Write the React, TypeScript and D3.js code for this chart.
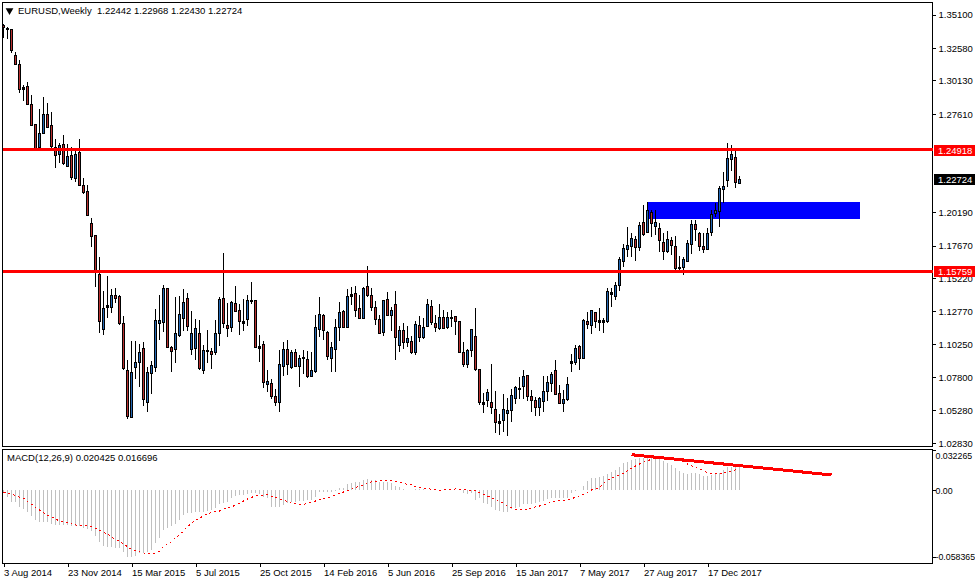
import { useEffect, useRef } from 'react'
import * as d3 from 'd3'

const opens = [
  1.3431,1.3408,1.3401,1.3205,1.3137,1.2962,1.2972,1.2836,1.2685,1.2515,
  1.2620,1.2761,1.2675,1.2515,1.2462,1.2532,1.2372,1.2450,1.2281,1.2475,
  1.2226,1.2178,1.1940,1.1846,1.1553,1.1139,1.1320,1.1305,1.1395,1.1388,
  1.1184,1.0831,1.0482,1.0858,1.0891,1.0996,1.0595,1.0813,1.0858,1.1190,
  1.1197,1.1448,1.1004,1.0989,1.1097,1.1222,1.1373,1.0989,1.0996,1.1109,
  1.0831,1.0984,1.0974,1.0966,1.1109,1.1373,1.1169,1.1159,1.1335,1.1282,
  1.1200,1.1220,1.1353,1.1358,1.1011,1.1026,1.0730,1.0733,1.0635,1.0590,
  1.0866,1.0989,1.0858,1.0966,1.0866,1.0928,1.0913,1.0790,1.0828,1.1144,
  1.1245,1.1117,1.0921,1.0989,1.1154,1.1280,1.1159,1.1393,1.1410,1.1297,
  1.1222,1.1463,1.1395,1.1305,1.1215,1.1117,1.1365,1.1245,1.1328,1.1024,
  1.1132,1.1046,1.1049,1.0966,1.1169,1.1084,1.1167,1.1312,1.1184,1.1152,
  1.1230,1.1154,1.1230,1.1237,1.1199,1.0966,1.0881,1.0986,1.1087,1.0838,
  1.0592,1.0605,1.0590,1.0537,1.0449,1.0454,1.0512,1.0529,1.0625,1.0692,
  1.0715,1.0793,1.0635,1.0605,1.0557,1.0602,1.0677,1.0738,1.0831,1.0657,
  1.0587,1.0612,1.0888,1.0891,1.1016,1.0926,1.1199,1.1169,1.1267,1.1207,
  1.1207,1.1199,1.1418,1.1393,1.1471,1.1656,1.1747,1.1769,1.1817,1.1762,
  1.1945,1.1875,1.2020,1.1920,1.1900,1.1794,1.1732,1.1810,1.1764,1.1609,
  1.1611,1.1656,1.1784,1.1930,1.1862,1.1764,1.1742,1.1870,1.2018,1.2028,
  1.2199,1.2266,1.2425,1.2434,1.22442,
]

const highs = [
  1.3438,1.3418,1.3401,1.3230,1.3167,1.2979,1.3004,1.2904,1.2685,1.2798,
  1.2889,1.2841,1.2778,1.2570,1.2545,1.2603,1.2535,1.2510,1.2482,1.2572,
  1.2279,1.2226,1.1978,1.1850,1.1681,1.1430,1.1541,1.1441,1.1448,1.1398,
  1.1240,1.0908,1.1051,1.1051,1.1029,1.1044,1.0858,1.0903,1.1292,1.1398,
  1.1471,1.1448,1.1014,1.1385,1.1390,1.1441,1.1415,1.1277,1.1215,1.1210,
  1.1021,1.1134,1.1001,1.1210,1.1380,1.1712,1.1335,1.1353,1.1466,1.1330,
  1.1365,1.1398,1.1493,1.1358,1.1097,1.1051,1.0833,1.0763,1.0690,1.0984,
  1.1041,1.1059,1.0984,1.0991,1.0946,1.0984,1.0976,1.0969,1.1247,1.1383,
  1.1252,1.1127,1.1044,1.1217,1.1345,1.1285,1.1440,1.1458,1.1466,1.1398,
  1.1461,1.1616,1.1451,1.1353,1.1247,1.1360,1.1418,1.1310,1.1425,1.1164,
  1.1184,1.1164,1.1089,1.1202,1.1240,1.1222,1.1365,1.1360,1.1247,1.1330,
  1.1285,1.1267,1.1285,1.1240,1.1199,1.1044,1.0989,1.1139,1.1300,1.0838,
  1.0657,1.0687,1.0878,1.0675,1.0502,1.0650,1.0620,1.0687,1.0715,1.0778,
  1.0833,1.0793,1.0682,1.0632,1.0632,1.0788,1.0788,1.0821,1.0908,1.0720,
  1.0682,1.0778,1.0953,1.1021,1.1021,1.1215,1.1267,1.1285,1.1272,1.1297,
  1.1222,1.1448,1.1448,1.1493,1.1686,1.1779,1.1907,1.1862,1.1842,1.1945,
  1.2076,1.2096,1.2038,1.2038,1.1937,1.1862,1.1880,1.1832,1.1842,1.1692,
  1.1686,1.1812,1.1963,1.1963,1.1875,1.1862,1.1900,1.2038,1.2088,1.2219,
  1.2321,1.2540,1.2527,1.2482,1.22968,
]

const lows = [
  1.3336,1.3323,1.3223,1.3130,1.2921,1.2859,1.2829,1.2670,1.2505,1.2505,
  1.2620,1.2655,1.2502,1.2357,1.2394,1.2377,1.2364,1.2264,1.2246,1.2221,
  1.2158,1.2003,1.1759,1.1460,1.1114,1.1097,1.1222,1.1265,1.1335,1.1174,
  1.0833,1.0462,1.0474,1.0765,1.0708,1.0564,1.0519,1.0652,1.0821,1.1061,
  1.1122,1.1001,1.0821,1.0888,1.1084,1.1129,1.1129,1.0946,1.0908,1.0833,
  1.0805,1.0888,1.0841,1.0946,1.1014,1.1149,1.1084,1.1122,1.1272,1.1097,
  1.1129,1.1164,1.1330,1.1004,1.0893,1.0700,1.0670,1.0617,1.0564,1.0519,
  1.0790,1.0795,1.0841,1.0853,1.0708,1.0803,1.0775,1.0790,1.0813,1.1082,
  1.1061,1.0911,1.0821,1.0821,1.1054,1.1152,1.1154,1.1323,1.1235,1.1222,
  1.1222,1.1385,1.1280,1.1174,1.1109,1.1089,1.1242,1.1127,1.0908,1.0971,
  1.0994,1.1009,1.0954,1.0946,1.1046,1.1069,1.1154,1.1174,1.1122,1.1134,
  1.1139,1.1139,1.1154,1.1097,1.0971,1.0856,1.0851,1.0933,1.0826,1.0570,
  1.0507,1.0552,1.0502,1.0359,1.0346,1.0369,1.0339,1.0444,1.0577,1.0615,
  1.0615,1.0602,1.0519,1.0489,1.0489,1.0514,1.0602,1.0670,1.0645,1.0577,
  1.0519,1.0602,1.0821,1.0871,1.0833,1.0921,1.1139,1.1104,1.1147,1.1127,
  1.1109,1.1189,1.1310,1.1360,1.1428,1.1606,1.1686,1.1686,1.1656,1.1732,
  1.1842,1.1867,1.1837,1.1847,1.1719,1.1661,1.1717,1.1699,1.1586,1.1586,
  1.1551,1.1649,1.1707,1.1804,1.1732,1.1717,1.1737,1.1842,1.1983,1.1912,
  1.2088,1.2214,1.2334,1.2206,1.2243,
]

const closes = [
  1.3413,1.3398,1.3243,1.3140,1.2952,1.2947,1.2836,1.2681,1.2505,1.2615,
  1.2761,1.2665,1.2520,1.2455,1.2525,1.2394,1.2445,1.2289,1.2457,1.2226,
  1.2176,1.2003,1.1844,1.1586,1.1205,1.1297,1.1310,1.1395,1.1378,1.1190,
  1.0851,1.0489,1.0816,1.0891,1.0966,1.0612,1.0816,1.0868,1.1207,1.1207,
  1.1448,1.1009,1.0979,1.1109,1.1252,1.1343,1.1167,1.1109,1.1147,1.0846,
  1.0981,1.0979,1.0956,1.1109,1.1365,1.1184,1.1147,1.1345,1.1280,1.1205,
  1.1190,1.1358,1.1358,1.1009,1.1001,1.0745,1.0748,1.0640,1.0595,1.0876,
  1.0989,1.0876,1.0966,1.0866,1.0921,1.0921,1.0790,1.0831,1.1154,1.1252,
  1.1132,1.0941,1.1004,1.1154,1.1267,1.1159,1.1388,1.1405,1.1282,1.1222,
  1.1451,1.1400,1.1310,1.1215,1.1109,1.1358,1.1250,1.1282,1.1084,1.1132,
  1.1046,1.1071,1.0971,1.1177,1.1084,1.1159,1.1328,1.1192,1.1159,1.1230,
  1.1147,1.1230,1.1227,1.1199,1.0971,1.0881,1.0981,1.1139,1.0841,1.0590,
  1.0580,1.0665,1.0557,1.0444,1.0437,1.0537,1.0532,1.0642,1.0703,1.0697,
  1.0785,1.0640,1.0610,1.0557,1.0620,1.0672,1.0740,1.0801,1.0650,1.0587,
  1.0612,1.0725,1.0898,1.0996,1.0926,1.1207,1.1182,1.1282,1.1199,1.1192,
  1.1192,1.1426,1.1403,1.1471,1.1666,1.1749,1.1772,1.1825,1.1757,1.1922,
  1.1860,1.2035,1.1943,1.1945,1.1814,1.1732,1.1817,1.1777,1.1604,1.1604,
  1.1666,1.1787,1.1930,1.1897,1.1769,1.1747,1.1862,1.2005,1.2035,1.2201,
  1.2216,1.2427,1.2457,1.2251,1.22724,
]

const macdValues = [
  -0.0021,-0.0056,-0.0100,-0.0100,-0.0144,-0.0164,-0.0188,-0.0226,-0.0261,-0.0278,
  -0.0278,-0.0278,-0.0296,-0.0305,-0.0305,-0.0305,-0.0305,-0.0314,-0.0314,-0.0316,
  -0.0334,-0.0343,-0.0357,-0.0401,-0.0451,-0.0489,-0.0498,-0.0501,-0.0504,-0.0510,
  -0.0539,-0.0583,-0.0583,-0.0574,-0.0554,-0.0554,-0.0545,-0.0524,-0.0466,-0.0422,
  -0.0349,-0.0328,-0.0314,-0.0296,-0.0261,-0.0217,-0.0202,-0.0202,-0.0188,-0.0188,
  -0.0188,-0.0182,-0.0173,-0.0152,-0.0123,-0.0114,-0.0100,-0.0070,-0.0050,-0.0041,
  -0.0041,-0.0035,-0.0026,-0.0026,-0.0035,-0.0056,-0.0070,-0.0144,-0.0149,-0.0144,
  -0.0129,-0.0114,-0.0105,-0.0100,-0.0094,-0.0094,-0.0085,-0.0085,-0.0062,-0.0018,
  -0.0018,-0.0012,-0.0015,-0.0009,0.0018,0.0023,0.0056,0.0067,0.0070,0.0076,
  0.0094,0.0100,0.0091,0.0091,0.0070,0.0076,0.0070,0.0062,0.0038,0.0032,
  0.0009,0.0006,0.0006,0.0009,0.0009,0.0009,0.0006,0.0006,0.0006,0.0006,
  0.0006,0.0003,0.0003,0.0003,0.0003,-0.0026,-0.0029,-0.0021,-0.0085,-0.0070,
  -0.0114,-0.0123,-0.0144,-0.0173,-0.0182,-0.0188,-0.0188,-0.0167,-0.0158,-0.0147,
  -0.0123,-0.0123,-0.0123,-0.0114,-0.0105,-0.0094,-0.0079,-0.0070,-0.0070,-0.0070,
  -0.0070,-0.0064,-0.0026,-0.0006,0.0003,0.0041,0.0082,0.0105,0.0111,0.0114,
  0.0126,0.0147,0.0164,0.0179,0.0208,0.0237,0.0252,0.0270,0.0275,0.0281,
  0.0287,0.0290,0.0290,0.0287,0.0281,0.0258,0.0237,0.0223,0.0193,0.0170,
  0.0155,0.0144,0.0152,0.0149,0.0144,0.0129,0.0126,0.0135,0.0144,0.0149,
  0.0179,0.0202,0.0208,0.0208,0.020425,
]

const signalValues = [
  -0.0018,-0.0026,-0.0035,-0.0047,-0.0062,-0.0070,-0.0100,-0.0123,-0.0152,-0.0173,
  -0.0196,-0.0217,-0.0231,-0.0252,-0.0270,-0.0281,-0.0287,-0.0296,-0.0305,-0.0308,
  -0.0311,-0.0314,-0.0319,-0.0334,-0.0349,-0.0369,-0.0384,-0.0413,-0.0428,-0.0451,
  -0.0472,-0.0495,-0.0519,-0.0530,-0.0542,-0.0551,-0.0554,-0.0554,-0.0554,-0.0533,
  -0.0495,-0.0475,-0.0451,-0.0416,-0.0393,-0.0357,-0.0319,-0.0290,-0.0261,-0.0246,
  -0.0223,-0.0208,-0.0196,-0.0188,-0.0182,-0.0164,-0.0152,-0.0147,-0.0129,-0.0114,
  -0.0094,-0.0076,-0.0062,-0.0050,-0.0044,-0.0041,-0.0041,-0.0053,-0.0064,-0.0076,
  -0.0085,-0.0100,-0.0114,-0.0120,-0.0123,-0.0123,-0.0114,-0.0105,-0.0094,-0.0079,
  -0.0076,-0.0064,-0.0056,-0.0041,-0.0029,-0.0015,-0.0006,0.0015,0.0026,0.0035,
  0.0047,0.0067,0.0073,0.0076,0.0082,0.0088,0.0088,0.0085,0.0076,0.0073,
  0.0064,0.0050,0.0047,0.0035,0.0026,0.0018,0.0015,0.0009,0.0003,0.0000,
  0.0003,0.0003,0.0009,0.0012,0.0009,0.0009,0.0003,0.0000,-0.0003,-0.0021,
  -0.0035,-0.0050,-0.0064,-0.0085,-0.0100,-0.0114,-0.0138,-0.0152,-0.0167,-0.0167,
  -0.0167,-0.0167,-0.0158,-0.0144,-0.0138,-0.0129,-0.0117,-0.0105,-0.0100,-0.0091,
  -0.0088,-0.0085,-0.0076,-0.0059,-0.0050,-0.0035,-0.0018,0.0003,0.0012,0.0026,
  0.0062,0.0091,0.0105,0.0120,0.0135,0.0149,0.0173,0.0193,0.0214,0.0231,
  0.0246,0.0258,0.0275,0.0287,0.0287,0.0281,0.0281,0.0275,0.0275,0.0267,
  0.0252,0.0231,0.0214,0.0199,0.0188,0.0170,0.0155,0.0149,0.0146,0.0146,
  0.0149,0.0164,0.0170,0.0179,0.0188,
]

const dateLabels = [
  '3 Aug 2014', '23 Nov 2014', '15 Mar 2015', '5 Jul 2015', '25 Oct 2015', '14 Feb 2016',
  '5 Jun 2016', '25 Sep 2016', '15 Jan 2017', '7 May 2017', '27 Aug 2017', '17 Dec 2017',
]
const priceTicks = [1.351, 1.3258, 1.3013, 1.2761, 1.2019, 1.1767, 1.1522, 1.1277, 1.1025, 1.078, 1.0528, 1.0283]
const macdTicks = [0.032265, 0, -0.058365]
const macdTickLabels = ['0.032265', '0.00', '-0.058365']

const hLevels = [1.24918, 1.15759]
const lastPrice = 1.22724
const zoneTop = 1.2098
const zoneBottom = 1.1972
const zoneBars = [161, 214]
const trendBars = [157, 207]
const trendValues = [0.0313, 0.0135]

const FONT = '"Liberation Sans", Arial, sans-serif'
const FS = '9.5px'
const RED = '#ff0000'

export default function App() {
  const ref = useRef<SVGSVGElement>(null)

  useEffect(() => {
    if (!ref.current) return
    const svg = d3.select(ref.current)
    svg.selectAll('*').remove()

    const right = 932.5
    const x = d3.scaleLinear().domain([0, 184]).range([3.5, 739.5])
    const y = d3.scaleLinear().domain([1.351, 1.0283]).range([14.5, 443])
    const yM = d3.scaleLinear().domain([0.032265, -0.058365]).range([453.6, 556.7])

    // frames
    const frames = svg.append('g').attr('fill', 'none').attr('stroke', '#000').attr('shape-rendering', 'crispEdges')
    frames.append('rect').attr('x', 2.5).attr('y', 2.5).attr('width', right - 2.5).attr('height', 444)
    frames.append('rect').attr('x', 2.5).attr('y', 449.5).attr('width', right - 2.5).attr('height', 114)

    // supply/demand zone sits behind the candles
    svg.append('rect')
      .attr('x', x(zoneBars[0]))
      .attr('y', y(zoneTop))
      .attr('width', x(zoneBars[1]) - x(zoneBars[0]))
      .attr('height', y(zoneBottom) - y(zoneTop))
      .attr('fill', '#0000ff')
      .attr('shape-rendering', 'crispEdges')

    const idx = d3.range(opens.length)
    const candles = svg.append('g').attr('shape-rendering', 'crispEdges')

    candles.selectAll('line')
      .data(idx)
      .join('line')
      .attr('x1', i => x(i))
      .attr('x2', i => x(i))
      .attr('y1', i => Math.round(y(highs[i])))
      .attr('y2', i => Math.round(y(lows[i])))
      .attr('stroke', '#000')

    candles.selectAll('rect.outer')
      .data(idx)
      .join('rect')
      .attr('class', 'outer')
      .attr('x', i => x(i) - 1.5)
      .attr('y', i => Math.round(y(Math.max(opens[i], closes[i]))))
      .attr('width', 3)
      .attr('height', i => Math.max(1, Math.round(y(Math.min(opens[i], closes[i]))) - Math.round(y(Math.max(opens[i], closes[i]))) + 1))
      .attr('fill', '#000')

    candles.selectAll('rect.inner')
      .data(idx.filter(i => Math.abs(y(opens[i]) - y(closes[i])) > 2))
      .join('rect')
      .attr('class', 'inner')
      .attr('x', i => x(i) - 0.5)
      .attr('y', i => Math.round(y(Math.max(opens[i], closes[i]))) + 1)
      .attr('width', 1)
      .attr('height', i => Math.round(y(Math.min(opens[i], closes[i]))) - Math.round(y(Math.max(opens[i], closes[i]))) - 1)
      .attr('fill', i => closes[i] >= opens[i] ? '#2468b4' : '#b83030')

    // price axis
    const priceAxis = svg.append('g')
      .attr('transform', `translate(${right},0)`)
      .call(d3.axisRight(y).tickValues(priceTicks).tickSize(3).tickPadding(3).tickFormat(d3.format('.5f') as any))
    priceAxis.select('.domain').remove()
    priceAxis.selectAll('line').attr('shape-rendering', 'crispEdges').attr('stroke', '#000')
    priceAxis.selectAll('text').attr('font-family', FONT).attr('font-size', FS).attr('fill', '#000')

    // horizontal levels
    svg.selectAll('line.level')
      .data(hLevels)
      .join('line')
      .attr('class', 'level')
      .attr('x1', 3)
      .attr('x2', right)
      .attr('y1', d => y(d))
      .attr('y2', d => y(d))
      .attr('stroke', RED)
      .attr('stroke-width', 3)
      .attr('shape-rendering', 'crispEdges')

    // price tags on the axis
    const tags = [...hLevels.map(v => ({ v, c: RED })), { v: lastPrice, c: '#000' }]
    const tag = svg.selectAll('g.tag').data(tags).join('g').attr('class', 'tag')
    tag.append('rect')
      .attr('x', 934)
      .attr('y', d => Math.round(y(d.v)) - 5)
      .attr('width', 41)
      .attr('height', 11)
      .attr('fill', d => d.c)
      .attr('shape-rendering', 'crispEdges')
    tag.append('text')
      .attr('x', 938)
      .attr('y', d => Math.round(y(d.v)) + 3.5)
      .attr('fill', '#fff')
      .attr('font-family', FONT)
      .attr('font-size', FS)
      .text(d => d3.format('.5f')(d.v))

    // MACD histogram
    svg.append('g').attr('shape-rendering', 'crispEdges')
      .selectAll('line')
      .data(macdValues)
      .join('line')
      .attr('x1', (_, i) => x(i))
      .attr('x2', (_, i) => x(i))
      .attr('y1', yM(0))
      .attr('y2', d => yM(d))
      .attr('stroke', '#c0c0c0')

    // signal line
    const signalLine = d3.line<number>().x((_, i) => x(i)).y(d => yM(d))
    svg.append('path')
      .datum(signalValues)
      .attr('d', signalLine)
      .attr('fill', 'none')
      .attr('stroke', RED)
      .attr('stroke-width', 1)
      .attr('stroke-dasharray', '2 3')
      .attr('shape-rendering', 'crispEdges')

    // trend line drawn on the indicator
    const trendLine = d3.line<number>().x((_, i) => x(trendBars[i])).y(d => yM(d))
    svg.append('path')
      .datum(trendValues)
      .attr('d', trendLine)
      .attr('fill', 'none')
      .attr('stroke', RED)
      .attr('stroke-width', 3)
      .attr('shape-rendering', 'crispEdges')

    // MACD axis, the top tick is pinned to the pane edge with its label under it
    const macdAxis = svg.append('g')
      .attr('transform', `translate(${right},0)`)
      .call(d3.axisRight(yM).tickValues(macdTicks).tickSize(3).tickPadding(0).tickFormat((_, i) => macdTickLabels[i]))
    macdAxis.select('.domain').remove()
    macdAxis.selectAll('line').attr('shape-rendering', 'crispEdges').attr('stroke', '#000')
    macdAxis.selectAll('text').attr('font-family', FONT).attr('font-size', '8.8px').attr('fill', '#000')
    const topTick = macdAxis.selectAll('.tick').filter((_, i) => i === 0)
    topTick.select('line').attr('y1', -3.6).attr('y2', -3.6)
    topTick.select('text').attr('y', 2.1)

    // date axis
    const dateAxis = svg.append('g')
      .attr('transform', 'translate(0,563.5)')
      .call(d3.axisBottom(x).tickValues(dateLabels.map((_, k) => k * 16)).tickSize(3).tickPadding(3).tickFormat((_, k) => dateLabels[k]))
    dateAxis.select('.domain').remove()
    dateAxis.selectAll('line').attr('shape-rendering', 'crispEdges').attr('stroke', '#000')
    dateAxis.selectAll('text')
      .attr('text-anchor', 'start')
      .attr('font-family', FONT)
      .attr('font-size', FS)
      .attr('fill', '#000')

    // headers
    svg.append('path').attr('d', d3.symbol(d3.symbolTriangle, 26)()!)
      .attr('transform', 'translate(9.5,10.5) rotate(180)')
      .attr('fill', '#000')
    const header = svg.append('g').attr('font-family', FONT).attr('font-size', FS).attr('fill', '#000')
    header.append('text').attr('x', 18).attr('y', 14).text('EURUSD,Weekly')
    header.append('text').attr('x', 97).attr('y', 14).text('1.22442 1.22968 1.22430 1.22724')
    header.append('text').attr('x', 7).attr('y', 461).text('MACD(12,26,9) 0.020425 0.016696')
  }, [])

  return <svg ref={ref} width={975} height={584} style={{ position: 'absolute', left: 0, top: 0, background: '#fff' }} />
}
